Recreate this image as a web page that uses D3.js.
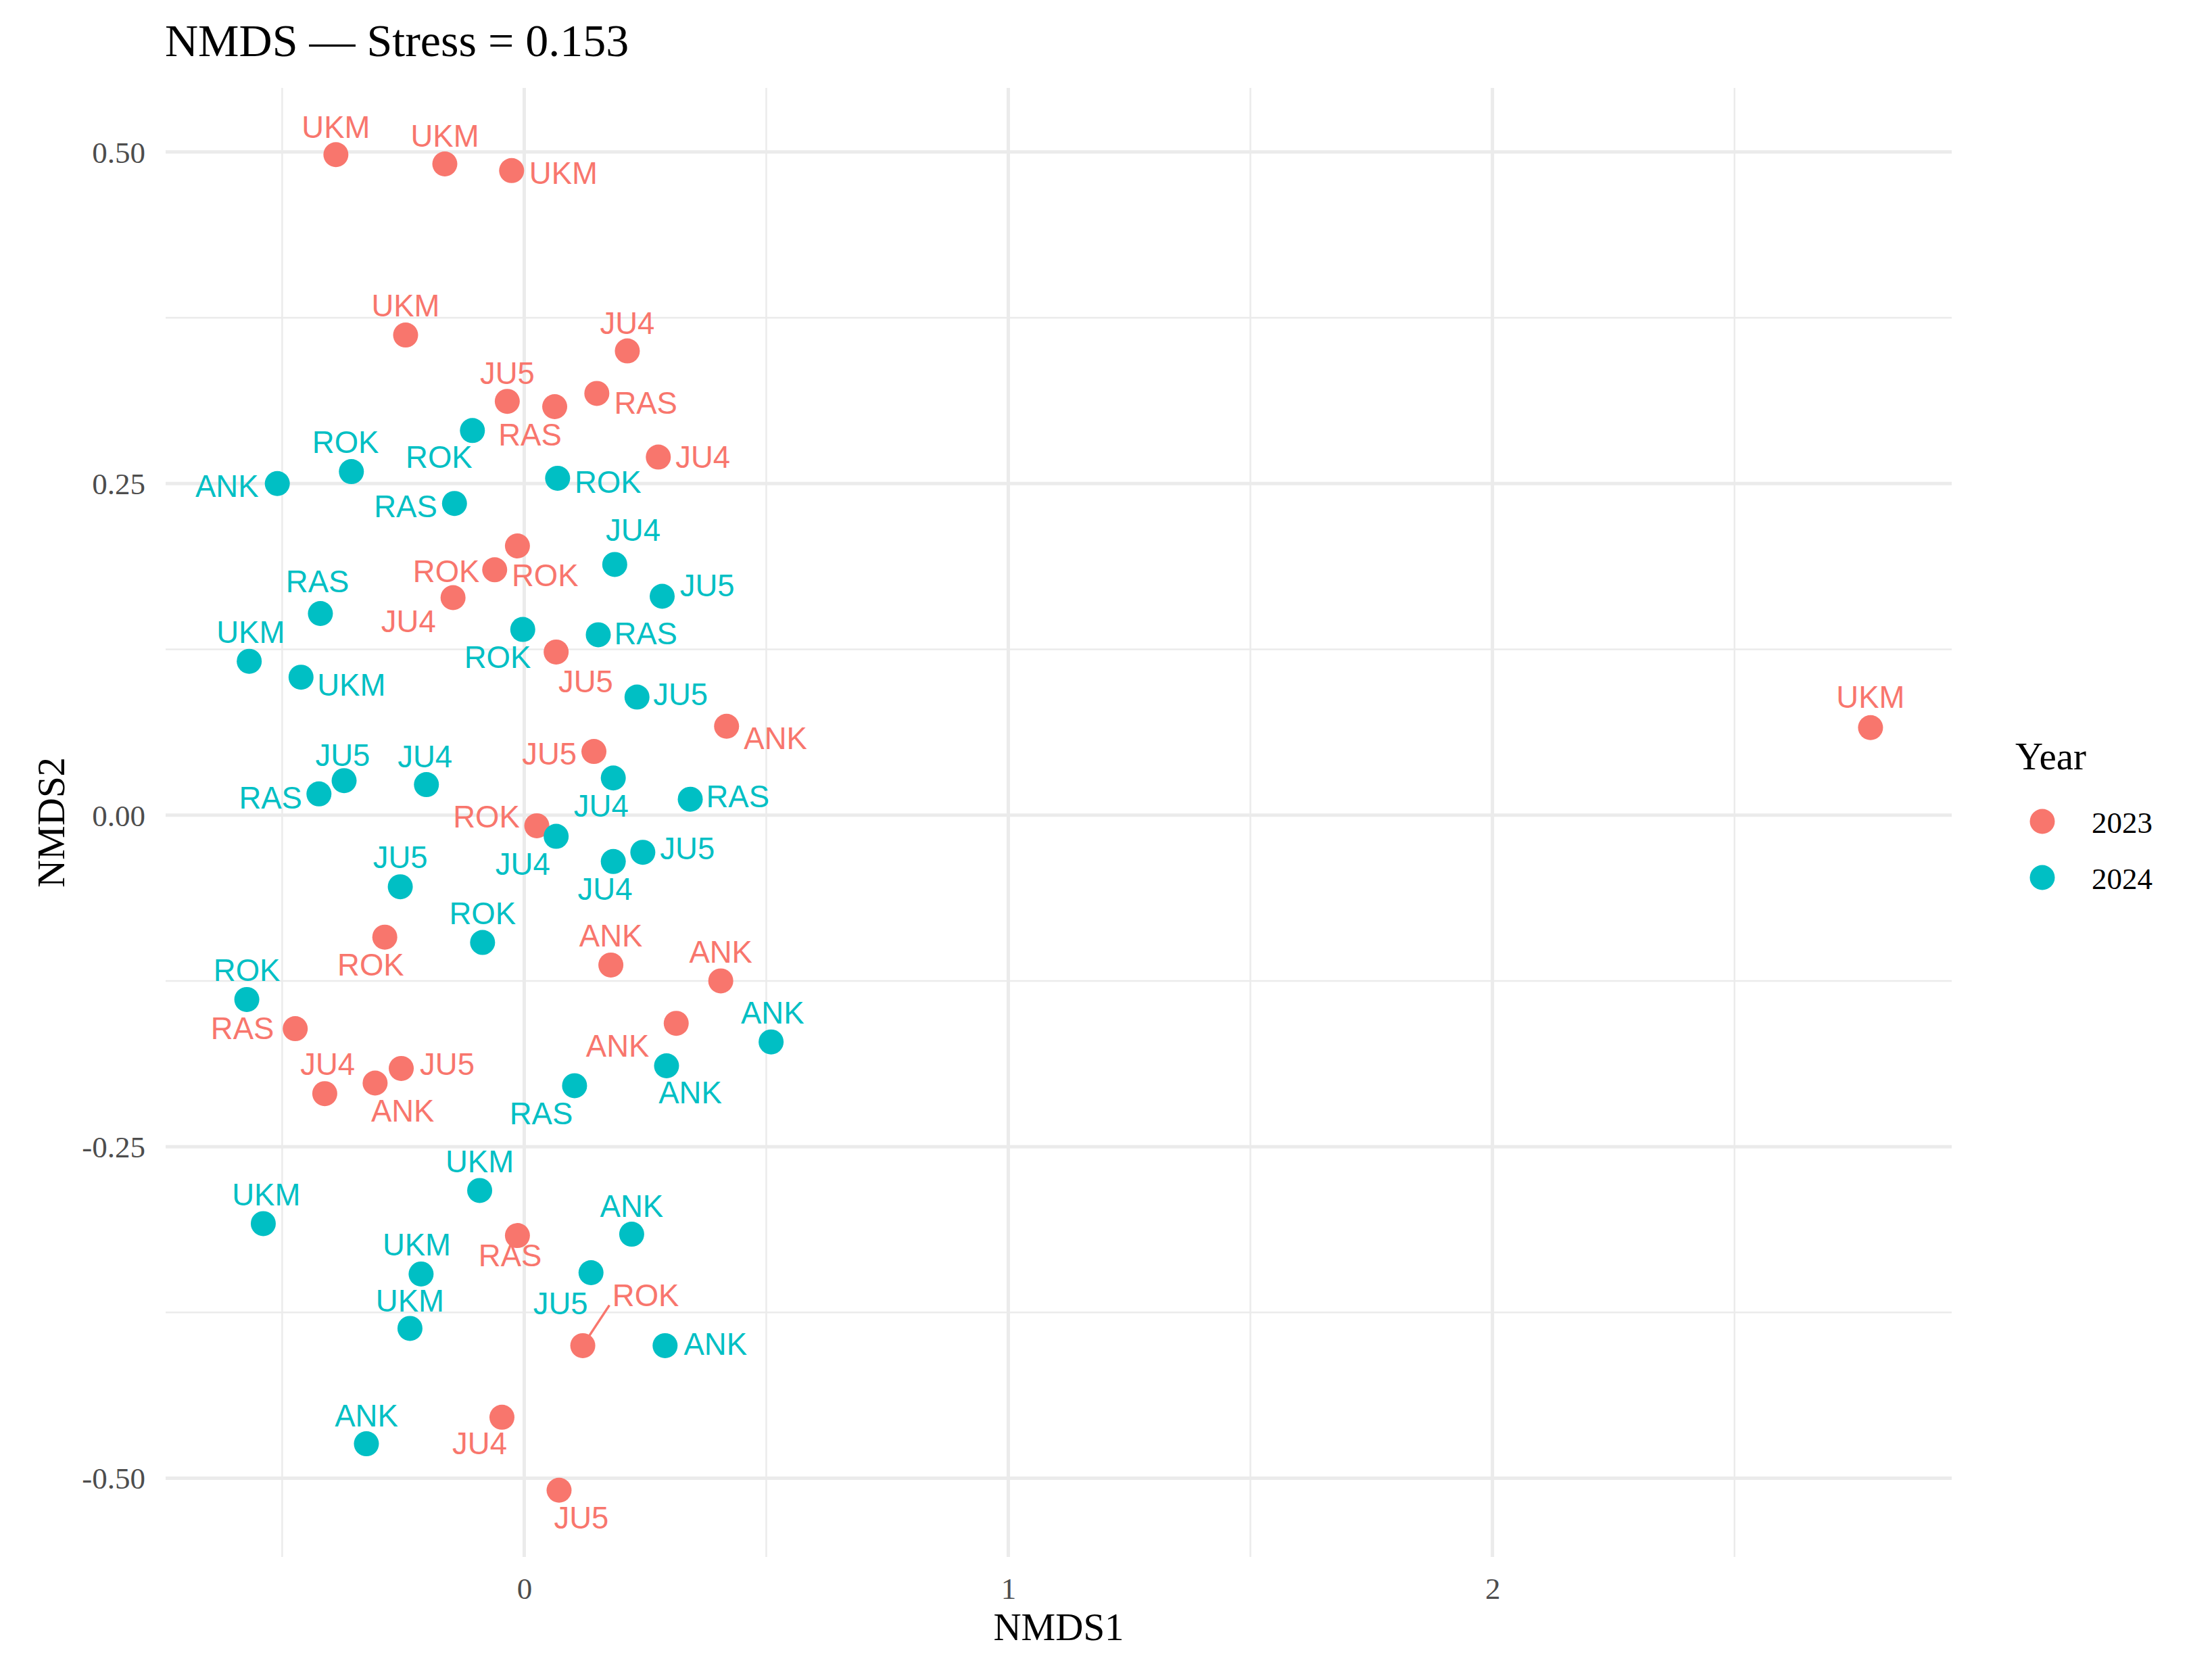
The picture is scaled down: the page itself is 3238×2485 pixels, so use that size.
<!DOCTYPE html>
<html lang="en">
<head>
    <meta charset="UTF-8">
    <title>NMDS</title>
    <script src="https://d3js.org/d3.v7.min.js"></script>
    <style>
        body { margin: 0; background: #fff; }
    </style>
</head>
<body>
<div id="chart"></div>

<script type=text/javascript>
    var width = 3238;
    var height = 2485;

    var years = ["2023", "2024"];
    var colors = ["#F8766D", "#00BFC4"];

    // 2023 sites: NMDS scores and repelled label positions (data units)
    var site23 = ["UKM","UKM","UKM","UKM","JU4","JU5","RAS","RAS","JU4","ROK","ROK","JU4","JU5","ANK","JU5",
                  "ROK","ROK","ANK","ANK","ANK","RAS","JU4","ANK","JU5","RAS","ROK","JU4","JU5","UKM"];
    var x23 = [-0.389,-0.164,-0.026,-0.245,0.213,-0.035,0.063,0.150,0.277,-0.014,-0.061,-0.147,0.066,0.418,0.144,
               0.026,-0.288,0.179,0.406,0.314,-0.473,-0.412,-0.308,-0.254,-0.014,0.121,-0.046,0.072,2.781];
    var y23 = [0.498,0.491,0.486,0.362,0.350,0.312,0.308,0.318,0.270,0.203,0.185,0.164,0.123,0.067,0.048,
               -0.008,-0.092,-0.113,-0.125,-0.157,-0.161,-0.210,-0.202,-0.191,-0.317,-0.400,-0.454,-0.509,0.066];
    var lx23 = [-0.389,-0.164,0.081,-0.245,0.213,-0.035,0.012,0.251,0.369,0.043,-0.161,-0.239,0.127,0.519,0.052,
                -0.078,-0.317,0.179,0.406,0.193,-0.582,-0.406,-0.251,-0.159,-0.029,0.251,-0.092,0.118,2.781];
    var ly23 = [0.519,0.512,0.484,0.384,0.371,0.333,0.287,0.311,0.270,0.181,0.184,0.146,0.101,0.058,0.046,
                -0.001,-0.113,-0.091,-0.103,-0.174,-0.161,-0.188,-0.223,-0.188,-0.332,-0.362,-0.474,-0.530,0.089];

    // 2024 sites
    var site24 = ["ANK","ROK","ROK","RAS","ROK","JU4","JU5","RAS","UKM","UKM","ROK","RAS","JU5","JU5","RAS","JU4","JU4","RAS",
                  "JU4","JU4","JU5","JU5","ROK","ROK","ANK","ANK","RAS","UKM","UKM","ANK","UKM","JU5","UKM","ANK","ANK"];
    var x24 = [-0.510,-0.357,-0.107,-0.144,0.069,0.187,0.285,-0.421,-0.568,-0.461,-0.003,0.153,0.233,-0.372,-0.424,-0.202,0.184,0.343,
               0.066,0.184,0.245,-0.256,-0.086,-0.573,0.510,0.294,0.104,-0.092,-0.539,0.222,-0.213,0.138,-0.236,0.291,-0.326];
    var y24 = [0.250,0.259,0.290,0.235,0.254,0.189,0.165,0.152,0.116,0.104,0.140,0.136,0.089,0.026,0.016,0.023,0.028,0.012,
               -0.016,-0.035,-0.028,-0.054,-0.096,-0.139,-0.171,-0.189,-0.204,-0.283,-0.308,-0.316,-0.346,-0.345,-0.387,-0.400,-0.474];
    var lx24 = [-0.614,-0.369,-0.176,-0.245,0.173,0.225,0.378,-0.427,-0.565,-0.357,-0.055,0.251,0.323,-0.375,-0.524,-0.205,0.159,0.441,
                -0.003,0.167,0.337,-0.256,-0.086,-0.573,0.513,0.343,0.035,-0.092,-0.533,0.222,-0.222,0.075,-0.236,0.395,-0.326];
    var ly24 = [0.248,0.281,0.270,0.233,0.251,0.215,0.173,0.176,0.138,0.098,0.119,0.137,0.091,0.045,0.013,0.044,0.007,0.014,
                -0.037,-0.056,-0.025,-0.032,-0.074,-0.117,-0.149,-0.209,-0.225,-0.261,-0.286,-0.295,-0.324,-0.368,-0.366,-0.399,-0.453];

    var xTicks = [0, 1, 2];
    var xMinor = [-0.5, 0.5, 1.5, 2.5];
    var yTicks = [-0.50, -0.25, 0, 0.25, 0.50];
    var yMinor = [-0.375, -0.125, 0.125, 0.375];

    var points = [];
    site23.forEach(function (s, i) {
        points.push({site: s, year: 0, x: x23[i], y: y23[i], lx: lx23[i], ly: ly23[i]});
    });
    site24.forEach(function (s, i) {
        points.push({site: s, year: 1, x: x24[i], y: y24[i], lx: lx24[i], ly: ly24[i]});
    });

    var panel = {left: 245, right: 2887, top: 130, bottom: 2303};

    // ggplot style 5% expansion
    function expand(ext) {
        var pad = (ext[1] - ext[0]) * 0.05;
        return [ext[0] - pad, ext[1] + pad];
    }

    var x = d3.scaleLinear()
        .domain(expand(d3.extent(points, function (d) { return d.x; })))
        .range([panel.left, panel.right]);

    var y = d3.scaleLinear()
        .domain(expand(d3.extent(points, function (d) { return d.y; })))
        .range([panel.bottom, panel.top]);

    var svg = d3.select("#chart")
        .append("svg")
        .attr("width", width)
        .attr("height", height)
        .style("background", "#fff");

    var serif = "'Liberation Serif', 'Times New Roman', serif";
    var sans = "'Liberation Sans', Arial, sans-serif";

    // grid
    var grid = svg.append("g");
    grid.selectAll(".xminor").data(xMinor).enter().append("line")
        .attr("x1", function (d) { return x(d); }).attr("x2", function (d) { return x(d); })
        .attr("y1", panel.top).attr("y2", panel.bottom)
        .attr("stroke", "#ebebeb").attr("stroke-width", 2.5);
    grid.selectAll(".yminor").data(yMinor).enter().append("line")
        .attr("y1", function (d) { return y(d); }).attr("y2", function (d) { return y(d); })
        .attr("x1", panel.left).attr("x2", panel.right)
        .attr("stroke", "#ebebeb").attr("stroke-width", 2.5);
    grid.selectAll(".xmajor").data(xTicks).enter().append("line")
        .attr("x1", function (d) { return x(d); }).attr("x2", function (d) { return x(d); })
        .attr("y1", panel.top).attr("y2", panel.bottom)
        .attr("stroke", "#ebebeb").attr("stroke-width", 5);
    grid.selectAll(".ymajor").data(yTicks).enter().append("line")
        .attr("y1", function (d) { return y(d); }).attr("y2", function (d) { return y(d); })
        .attr("x1", panel.left).attr("x2", panel.right)
        .attr("stroke", "#ebebeb").attr("stroke-width", 5);

    // axes (labels only, theme_minimal); plain hyphen for negatives like R
    var fmt2 = d3.format(".2f");
    var xAxis = svg.append("g")
        .attr("transform", "translate(0," + (panel.bottom + 20) + ")")
        .call(d3.axisBottom(x).tickValues(xTicks).tickSize(0).tickPadding(10).tickFormat(d3.format("d")));
    var yAxis = svg.append("g")
        .attr("transform", "translate(" + (panel.left - 26) + ",0)")
        .call(d3.axisLeft(y).tickValues(yTicks).tickSize(0).tickPadding(4)
            .tickFormat(function (d) { return fmt2(d).replace("\u2212", "-"); }));
    [xAxis, yAxis].forEach(function (a) {
        a.select(".domain").remove();
        a.selectAll("text")
            .attr("fill", "#4d4d4d")
            .style("font-family", serif)
            .style("font-size", "45px");
    });
    yAxis.selectAll("text").attr("dy", "0.34em");

    // points
    svg.append("g").selectAll("circle")
        .data(points).enter().append("circle")
        .attr("cx", function (d) { return x(d.x); })
        .attr("cy", function (d) { return y(d.y); })
        .attr("r", 18.5)
        .attr("fill", function (d) { return colors[d.year]; });

    // repelled labels
    var labels = svg.append("g").selectAll("text")
        .data(points).enter().append("text")
        .attr("x", function (d) { return x(d.lx); })
        .attr("y", function (d) { return y(d.ly); })
        .attr("dy", "0.35em")
        .attr("text-anchor", "middle")
        .attr("fill", function (d) { return colors[d.year]; })
        .style("font-family", sans)
        .style("font-size", "45.5px")
        .text(function (d) { return d.site; });

    // segments for labels pushed far from their point
    var segs = svg.append("g");
    labels.each(function (d) {
        var b = this.getBBox();
        var px = x(d.x), py = y(d.y);
        var nx = Math.max(b.x, Math.min(px, b.x + b.width));
        var ny = Math.max(b.y + b.height * 0.35, Math.min(py, b.y + b.height * 0.65));
        var dist = Math.hypot(nx - px, ny - py);
        if (dist > 55) {
            var ux = (nx - px) / dist, uy = (ny - py) / dist;
            segs.append("line")
                .attr("x1", px + ux * 12).attr("y1", py + uy * 12)
                .attr("x2", nx - ux * 8).attr("y2", ny - uy * 8)
                .attr("stroke", colors[d.year])
                .attr("stroke-width", 3.5);
        }
    });

    // titles
    svg.append("text")
        .attr("x", 244).attr("y", 83)
        .style("font-family", serif).style("font-size", "68px")
        .text("NMDS \u2014 Stress = 0.153");

    svg.append("text")
        .attr("x", (panel.left + panel.right) / 2).attr("y", 2426)
        .attr("text-anchor", "middle")
        .style("font-family", serif).style("font-size", "57px")
        .text("NMDS1");

    svg.append("text")
        .attr("transform", "translate(95," + ((panel.top + panel.bottom) / 2) + ") rotate(-90)")
        .attr("text-anchor", "middle")
        .style("font-family", serif).style("font-size", "57px")
        .text("NMDS2");

    // legend
    var legend = svg.append("g").attr("transform", "translate(2981,1138)");
    legend.append("text")
        .style("font-family", serif).style("font-size", "57px")
        .text("Year");
    var keys = legend.selectAll(".key").data(years).enter().append("g")
        .attr("transform", function (d, i) { return "translate(0," + (77 + i * 83) + ")"; });
    keys.append("circle")
        .attr("cx", 40).attr("cy", 0).attr("r", 18.5)
        .attr("fill", function (d, i) { return colors[i]; });
    keys.append("text")
        .attr("x", 113).attr("y", 17)
        .style("font-family", serif).style("font-size", "45px")
        .text(function (d) { return d; });
</script>
</body>
</html>
